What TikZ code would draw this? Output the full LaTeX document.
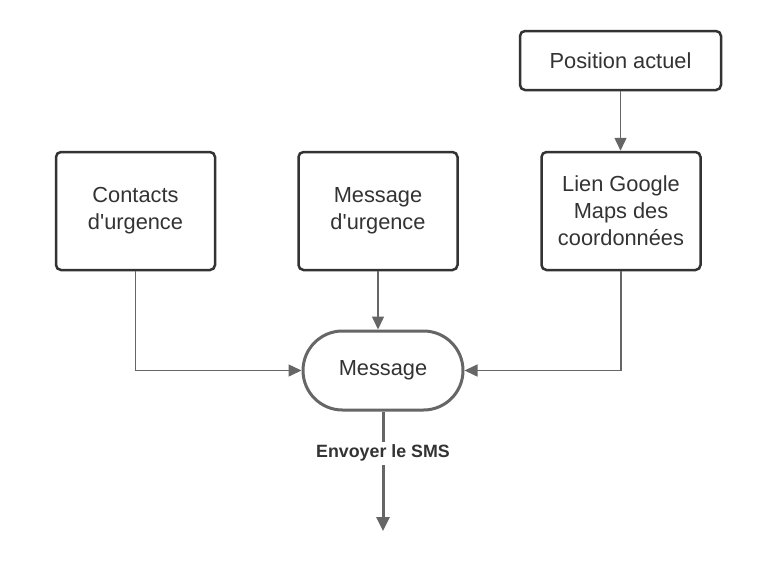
\documentclass[tikz,border=0pt]{standalone}
\usepackage{fontspec}
\setmainfont{Liberation Sans}
\usetikzlibrary{arrows.meta,shapes.misc}
\definecolor{boxline}{HTML}{333333}
\definecolor{conn}{HTML}{666666}
\definecolor{txt}{HTML}{333333}
\begin{document}
\begin{tikzpicture}[x=1pt,y=-1pt,
  stepbox/.style={draw=boxline,line width=2.5pt,rounded corners=5pt,fill=white,
    minimum width=159pt,minimum height=118pt,align=center,text=txt,
    font=\fontsize{21.8}{27}\selectfont,inner sep=0pt},
  stadium/.style={draw=conn,line width=3pt,rounded rectangle,fill=white,
    minimum width=160pt,minimum height=79pt,text=txt,
    font=\fontsize{21.8}{27}\selectfont,inner sep=0pt},
  link/.style={draw=conn,line width=1.5pt,-{Triangle[length=13pt,width=12pt]}},
  biglink/.style={draw=conn,line width=3pt,-{Triangle[length=14pt,width=13pt]}}]
\useasboundingbox (0,0) rectangle (763,563);
\node[stepbox,minimum width=201pt,minimum height=59pt] (pos) at (620.5,60.5) {Position actuel};
\node[stepbox] (ct) at (135.5,211) {Contacts\\d\textquotesingle urgence};
\node[stepbox] (mu) at (378,211) {Message\\d\textquotesingle urgence};
\node[stepbox] (lg) at (621,211) {Lien Google\\Maps des\\coordonnées};
\node[stadium] (msg) at (383,370.5) {Message};
\coordinate (end) at (383,531);
\draw[link] (pos.south) -- (pos.south |- lg.north);
\draw[link] (ct.south) |- (msg.west);
\draw[link] (mu.south) -- (mu.south |- msg.north);
\draw[link] (lg.south) |- (msg.east);
\draw[biglink] (msg.south) -- node[fill=white,text=txt,inner sep=3pt,font=\bfseries\fontsize{17.8}{20}\selectfont,pos=0.35]{Envoyer le SMS} (end);
\end{tikzpicture}
\end{document}
